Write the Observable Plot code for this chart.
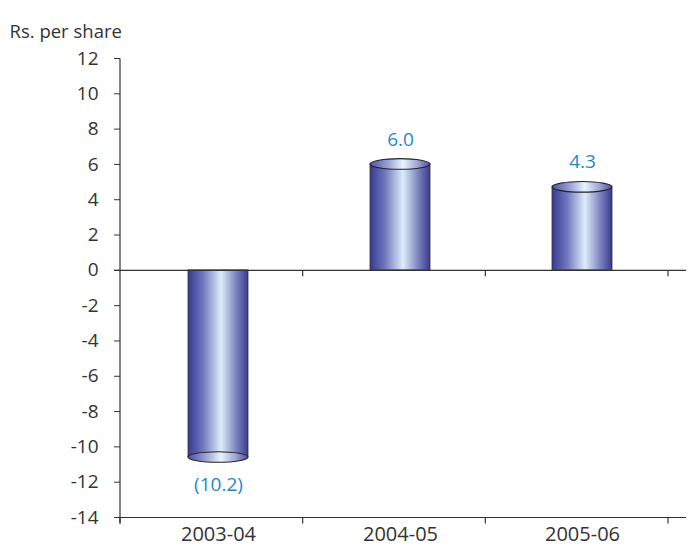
<!DOCTYPE html>
<html><head><meta charset="utf-8">
<script src="https://cdn.jsdelivr.net/npm/d3@7"></script>
<script src="https://cdn.jsdelivr.net/npm/@observablehq/plot@0.6"></script>
<style>body{margin:0;background:#fff;}</style>
</head><body><div id="chart"></div>
<script>
// ---- data ----
const years = ["2003-04", "2004-05", "2005-06"];
const values = [-10.6, 6.0, 4.7];          // drawn bar heights (Rs. per share)
const labels = ["(10.2)", "6.0", "4.3"];   // printed value labels
const yTicks = [-14, -12, -10, -8, -6, -4, -2, 0, 2, 4, 6, 8, 10, 12];
const yTitle = "Rs. per share";

const rows = years.map((year, i) => ({year, value: values[i], label: labels[i]}));

const FONT = "'Open Sans', sans-serif";
const BLUE = "#1f88cf";
const INK = "#333";
const SHIFT = 6;
const SVGNS = "http://www.w3.org/2000/svg";

// cylinders: body rects from Plot, plus ellipse caps derived from them
function cylinder(index, scales, vals, dims, context, next) {
  const g = next(index, scales, vals, dims, context);
  const rects = Array.from(g.querySelectorAll("rect"));
  rects.forEach((r, k) => {
    const i = index[k];
    const x = +r.getAttribute("x"), y = +r.getAttribute("y");
    const w = +r.getAttribute("width"), h = +r.getAttribute("height");
    const cy = rows[i].value >= 0 ? y : y + h;
    const e = document.createElementNS(SVGNS, "ellipse");
    e.setAttribute("cx", x + w / 2);
    e.setAttribute("cy", cy);
    e.setAttribute("rx", w / 2);
    e.setAttribute("ry", 5.3);
    e.setAttribute("fill", "url(#cylTop)");
    e.setAttribute("stroke", "#222");
    e.setAttribute("stroke-width", 1.1);
    const tr = r.getAttribute("transform");
    if (tr) e.setAttribute("transform", tr);
    r.parentNode.appendChild(e);
  });
  return g;
}

function line(x1, y1, x2, y2, tr) {
  const l = document.createElementNS(SVGNS, "line");
  l.setAttribute("x1", x1); l.setAttribute("x2", x2);
  l.setAttribute("y1", y1); l.setAttribute("y2", y2);
  l.setAttribute("stroke", INK);
  l.setAttribute("stroke-width", 1.2);
  if (tr) l.setAttribute("transform", tr);
  return l;
}

// category boundary ticks on a horizontal rule (and optionally the y axis line)
function boundaryTicks(startIndex, withAxis) {
  return (index, scales, vals, dims, context, next) => {
    const g = next(index, scales, vals, dims, context);
    const r0 = dims.marginLeft, r1 = dims.width - dims.marginRight;
    const n = years.length;
    const ln = g.querySelector("line");
    const yy = +ln.getAttribute("y1");
    const tr = ln.getAttribute("transform");
    for (let i = startIndex; i <= n; i++) {
      const bx = r0 + i * (r1 - r0) / n;
      ln.parentNode.appendChild(line(bx, yy, bx, yy + 6, tr));
    }
    if (withAxis) ln.parentNode.appendChild(line(r0, dims.marginTop, r0, yy + 6, tr));
    return g;
  };
}

const chart = Plot.plot({
  width: 688,
  height: 546,
  marginTop: 58,
  marginLeft: 120,
  marginRight: 20,
  marginBottom: 29,
  style: {fontFamily: FONT, fontSize: "18px", color: INK, background: "#fff"},
  x: {domain: years, paddingInner: 0.67, paddingOuter: 0.335, label: null},
  y: {domain: [-14, 12], label: null},
  marks: [
    Plot.barY(rows, {x: "year", y: "value", dx: SHIFT, fill: "url(#cylBody)", stroke: "#333", strokeWidth: 0.8, render: cylinder}),
    Plot.ruleY([0], {stroke: INK, strokeWidth: 1.2, insetLeft: -6, insetRight: -18, render: boundaryTicks(1, false)}),
    Plot.ruleY([-14], {stroke: INK, strokeWidth: 1.2, insetLeft: -6, insetRight: -18, render: boundaryTicks(0, true)}),
    Plot.axisY({ticks: yTicks, tickFormat: d => String(d), tickSize: 6, tickPadding: 16, label: null, stroke: INK, fill: INK, fontSize: 19}),
    Plot.axisX({tickSize: 0, tickPadding: 9, dx: SHIFT, label: null, fill: INK, fontSize: 20}),
    Plot.text(rows.filter(d => d.value >= 0), {x: "year", y: "value", text: "label", dx: SHIFT, dy: -25, fill: BLUE, fontSize: 19}),
    Plot.text(rows.filter(d => d.value < 0), {x: "year", y: "value", text: "label", dx: SHIFT, dy: 27, fill: BLUE, fontSize: 19}),
    Plot.text([yTitle], {frameAnchor: "top-left", dx: -111, dy: -34, textAnchor: "start", fill: INK, fontSize: 18.5})
  ]
});

// gradient definitions for the cylinder shading
const defs = d3.create("svg:defs");
const bodyGrad = defs.append("linearGradient").attr("id", "cylBody").attr("x1", 0).attr("x2", 1).attr("y1", 0).attr("y2", 0);
[[0, "#363a90"], [0.25, "#7077bd"], [0.55, "#dcedf9"], [0.8, "#7e84c2"], [1, "#383a8c"]]
  .forEach(([o, c]) => bodyGrad.append("stop").attr("offset", o).attr("stop-color", c));
const capGrad = defs.append("linearGradient").attr("id", "cylTop").attr("x1", 0).attr("x2", 1).attr("y1", 0).attr("y2", 0);
[[0, "#4d52a2"], [0.3, "#9aa1d4"], [0.55, "#e8f4fc"], [0.8, "#9ca1d2"], [1, "#4a4c9c"]]
  .forEach(([o, c]) => capGrad.append("stop").attr("offset", o).attr("stop-color", c));
chart.insertBefore(defs.node(), chart.firstChild);

document.getElementById("chart").appendChild(chart);
</script>
</body></html>
